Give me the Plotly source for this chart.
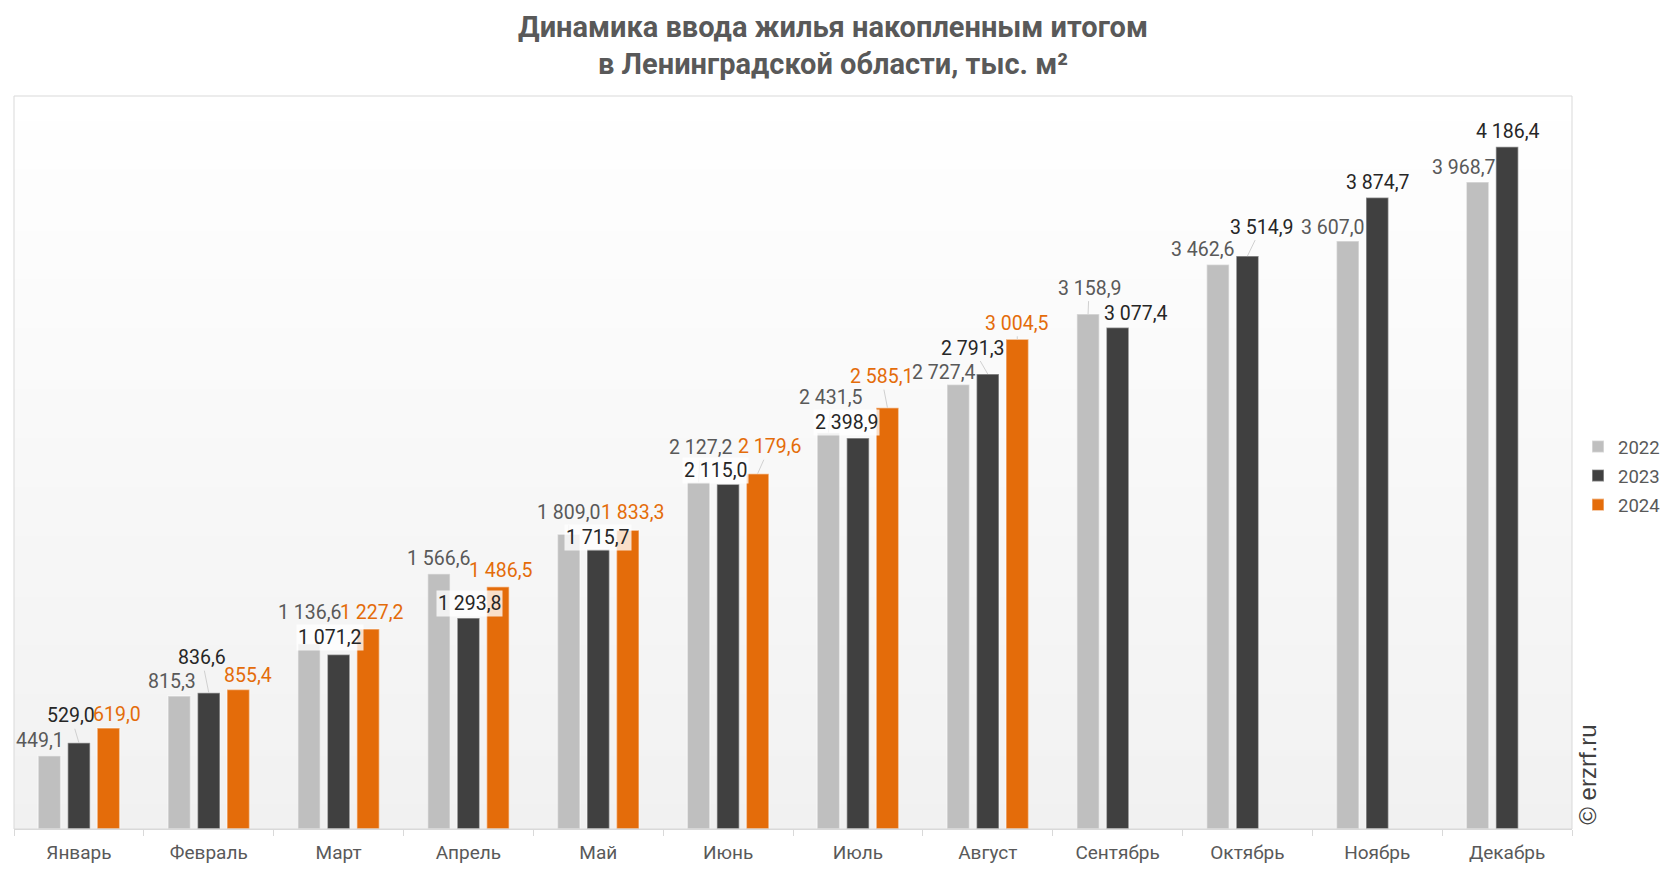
import plotly.graph_objects as go

months = ["Январь", "Февраль", "Март", "Апрель", "Май", "Июнь", "Июль",
          "Август", "Сентябрь", "Октябрь", "Ноябрь", "Декабрь"]
years = ["2022", "2023", "2024"]
v2022 = [449.1, 815.3, 1136.6, 1566.6, 1809.0, 2127.2, 2431.5, 2727.4, 3158.9, 3462.6, 3607.0, 3968.7]
v2023 = [529.0, 836.6, 1071.2, 1293.8, 1715.7, 2115.0, 2398.9, 2791.3, 3077.4, 3514.9, 3874.7, 4186.4]
v2024 = [619.0, 855.4, 1227.2, 1486.5, 1833.3, 2179.6, 2585.1, 3004.5, None, None, None, None]

# label placement (pixel offsets from bar top, leader-line flag, white box flag)
off2022 = [(-9, -15), (-7, -15), (1, -31), (0, -15), (0, -22), (2, -35), (3, -35),
           (-14, -12), (1, -26), (-15, -15), (-15, -14), (-14, -15)]
off2023 = [(-8, -27), (-7, -35), (-9, -17), (1, -15), (0, -12), (-13, -14), (-11, -15),
           (-15, -26), (18, -14), (14, -29), (1, -15), (1, -15)]
off2024 = [(9, -14), (10, -14), (4, -16), (3, -16), (5, -18), (12, -27), (-6, -31), (0, -16)]
lead2022 = {4, 5, 6, 8}
lead2023 = {0, 1, 7, 9}
lead2024 = {5, 6, 7}
box2023 = {2, 3, 4, 5, 6}

colors = ["#BFBFBF", "#404040", "#E46C0A"]
label_colors = ["#595959", "#262626", "#E46C0A"]

W, H = 1666, 872
ML, MR, MT, MB = 14, 94, 96, 43
PW, PH = W - ML - MR, H - MT - MB
BARGAP = 0.318
GROUPGAP = 0.237
slot = (1 - BARGAP) / 3

def fmt(v):
    s = f"{v:,.1f}"
    return s.replace(",", " ").replace(".", ",")

fig = go.Figure()
series = [v2022, v2023, v2024]
for k, (yr, vals) in enumerate(zip(years, series)):
    fig.add_trace(go.Bar(
        x=months, y=vals, name=yr,
        marker=dict(color=colors[k], line=dict(color="rgba(255,255,255,0.45)", width=1.5)),
        legendgroup=yr, hoverinfo="skip",
    ))

annotations = []
offs = [off2022, off2023, off2024]
leads = [lead2022, lead2023, lead2024]
for k, vals in enumerate(series):
    for i, v in enumerate(vals):
        if v is None:
            continue
        dx, dy = offs[k][i]
        annotations.append(dict(
            x=i + (k - 1) * slot, y=v, xref="x", yref="y",
            text=fmt(v), showarrow=True, ax=dx, ay=dy, axref="pixel", ayref="pixel",
            arrowhead=0, arrowwidth=1, standoff=0, startstandoff=0,
            arrowcolor="#D0D0D0" if i in leads[k] else "rgba(0,0,0,0)",
            font=dict(family="Roboto", size=19.5, color=label_colors[k]),
            bgcolor="rgba(255,255,255,0.78)" if (k == 1 and i in box2023) else "rgba(0,0,0,0)",
            borderpad=1,
        ))

annotations.append(dict(
    text="© erzrf.ru", textangle=-90, xref="paper", yref="paper",
    x=(1588 - ML) / PW, y=0.003, xanchor="center", yanchor="bottom",
    showarrow=False, font=dict(family="Liberation Sans", size=24, color="#404040"),
))

# gradient background + border
shapes = []
N = 60
top, bot = 255, 241
for j in range(N):
    t = (j + 0.5) / N
    c = round(bot + (top - bot) * t)
    shapes.append(dict(type="rect", xref="paper", yref="paper", x0=0, x1=1,
                       y0=j / N, y1=(j + 1) / N + 0.002, layer="below",
                       line=dict(width=0), fillcolor=f"rgb({c},{c},{c})"))
shapes.append(dict(type="rect", xref="paper", yref="paper", x0=0, x1=1, y0=0, y1=1,
                   line=dict(color="#D9D9D9", width=1), fillcolor="rgba(0,0,0,0)", layer="above"))

fig.update_layout(
    width=W, height=H,
    margin=dict(l=ML, r=MR, t=MT, b=MB, autoexpand=False),
    paper_bgcolor="white", plot_bgcolor="rgba(0,0,0,0)",
    barmode="group", bargap=BARGAP, bargroupgap=GROUPGAP,
    title=dict(text="Динамика ввода жилья накопленным итогом<br>в Ленинградской области, тыс. м²",
               x=0.5, xref="container", xanchor="center", y=1 - 36.6 / H, yref="container",
               yanchor="middle",
               font=dict(family="Roboto", size=29, color="#595959", weight="bold")),
    font=dict(family="Roboto", color="#595959"),
    xaxis=dict(type="category", showgrid=False, showline=True, linecolor="#D9D9D9", linewidth=1,
               ticks="outside", tickson="boundaries", ticklen=6, tickcolor="#D9D9D9",
               ticklabelstandoff=6,
               tickfont=dict(family="Roboto", size=19, color="#595959"), fixedrange=True,
               automargin=False),
    yaxis=dict(range=[0, 4497], visible=False, showgrid=False, fixedrange=True, automargin=False),
    legend=dict(x=(1578 - ML) / PW, y=(829 - 476) / PH, xanchor="left",
                yanchor="middle", font=dict(family="Roboto", size=18.5, color="#595959"),
                tracegroupgap=2, bgcolor="rgba(0,0,0,0)", itemwidth=30),
    annotations=annotations, shapes=shapes,
    hovermode=False,
)

fig.write_html("out.html", config={"displayModeBar": False},
               post_script="document.body.style.margin='0';document.body.style.overflow='hidden';")
